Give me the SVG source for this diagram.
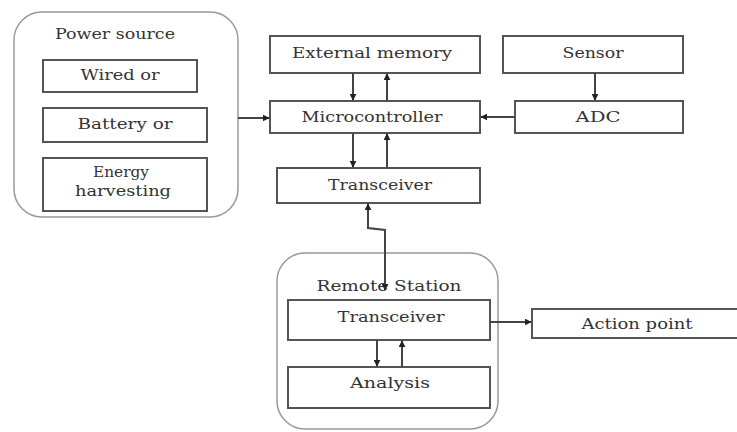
<svg xmlns="http://www.w3.org/2000/svg" width="737" height="432" viewBox="0 0 737 432">
<defs>
<marker id="ah" viewBox="0 0 10 10" refX="9" refY="5" markerWidth="7" markerHeight="7" orient="auto" markerUnits="userSpaceOnUse">
<path d="M0,0 L10,5 L0,10 z" fill="#222"/>
</marker>
</defs>
<style>
.box{fill:#fff;stroke:#555;stroke-width:2}
.grp{fill:#fff;stroke:#999;stroke-width:1.5}
text{font-family:'DejaVu Serif','Liberation Serif',serif;font-size:14px;fill:#333;text-anchor:middle}
.c{fill:none;stroke:#444;stroke-width:2}
</style>
<rect width="737" height="432" fill="#fff"/>
<g id="power-source">
<rect class="grp" x="14" y="12" width="224" height="205" rx="28"/>
<text x="115" y="39" textLength="120" lengthAdjust="spacingAndGlyphs">Power source</text>
</g>
<g id="wired">
<rect class="box" x="43" y="60" width="154" height="32"/>
<text x="120" y="80" textLength="79" lengthAdjust="spacingAndGlyphs">Wired or</text>
</g>
<g id="battery">
<rect class="box" x="43" y="108" width="164" height="34"/>
<text x="125" y="129" textLength="95" lengthAdjust="spacingAndGlyphs">Battery or</text>
</g>
<g id="energy">
<rect class="box" x="43" y="158" width="164" height="53"/>
<text x="121" y="177" textLength="56" lengthAdjust="spacingAndGlyphs">Energy</text>
<text x="123" y="196" textLength="96" lengthAdjust="spacingAndGlyphs">harvesting</text>
</g>
<g id="external-memory">
<rect class="box" x="270" y="36" width="210" height="37"/>
<text x="372" y="58" textLength="160" lengthAdjust="spacingAndGlyphs">External memory</text>
</g>
<g id="microcontroller">
<rect class="box" x="270" y="101" width="210" height="32"/>
<text x="372" y="122" textLength="141" lengthAdjust="spacingAndGlyphs">Microcontroller</text>
</g>
<g id="transceiver-node">
<rect class="box" x="277" y="168" width="203" height="35"/>
<text x="380" y="190" textLength="104" lengthAdjust="spacingAndGlyphs">Transceiver</text>
</g>
<g id="sensor">
<rect class="box" x="503" y="36" width="180" height="37"/>
<text x="593" y="58" textLength="61" lengthAdjust="spacingAndGlyphs">Sensor</text>
</g>
<g id="adc">
<rect class="box" x="515" y="101" width="168" height="32"/>
<text x="598" y="122" textLength="45" lengthAdjust="spacingAndGlyphs">ADC</text>
</g>
<g id="remote-station">
<rect class="grp" x="277" y="253" width="221" height="176" rx="28"/>
<text x="389" y="291" textLength="145" lengthAdjust="spacingAndGlyphs">Remote Station</text>
</g>
<g id="remote-transceiver">
<rect class="box" x="288" y="300" width="202" height="40"/>
<text x="391" y="322" textLength="107" lengthAdjust="spacingAndGlyphs">Transceiver</text>
</g>
<g id="analysis">
<rect class="box" x="288" y="367" width="202" height="41"/>
<text x="390" y="388" textLength="80" lengthAdjust="spacingAndGlyphs">Analysis</text>
</g>
<g id="action-point">
<rect class="box" x="532" y="309" width="210" height="29"/>
<text x="637" y="329" textLength="111" lengthAdjust="spacingAndGlyphs">Action point</text>
</g>
<g id="connectors">
<path class="c" d="M238,118 H269" marker-end="url(#ah)"/>
<path class="c" d="M353,73 V100" marker-end="url(#ah)"/>
<path class="c" d="M387,101 V74" marker-end="url(#ah)"/>
<path class="c" d="M353,133 V167" marker-end="url(#ah)"/>
<path class="c" d="M387,168 V134" marker-end="url(#ah)"/>
<path class="c" d="M595,73 V100" marker-end="url(#ah)"/>
<path class="c" d="M515,117 H481" marker-end="url(#ah)"/>
<path class="c" d="M385,290 V230 L368,228 V204" marker-end="url(#ah)"/>
<path class="c" d="M385,280 V290" marker-end="url(#ah)"/>
<path class="c" d="M377,340 V366" marker-end="url(#ah)"/>
<path class="c" d="M402,367 V341" marker-end="url(#ah)"/>
<path class="c" d="M490,322 H531" marker-end="url(#ah)"/>
</g>
</svg>
